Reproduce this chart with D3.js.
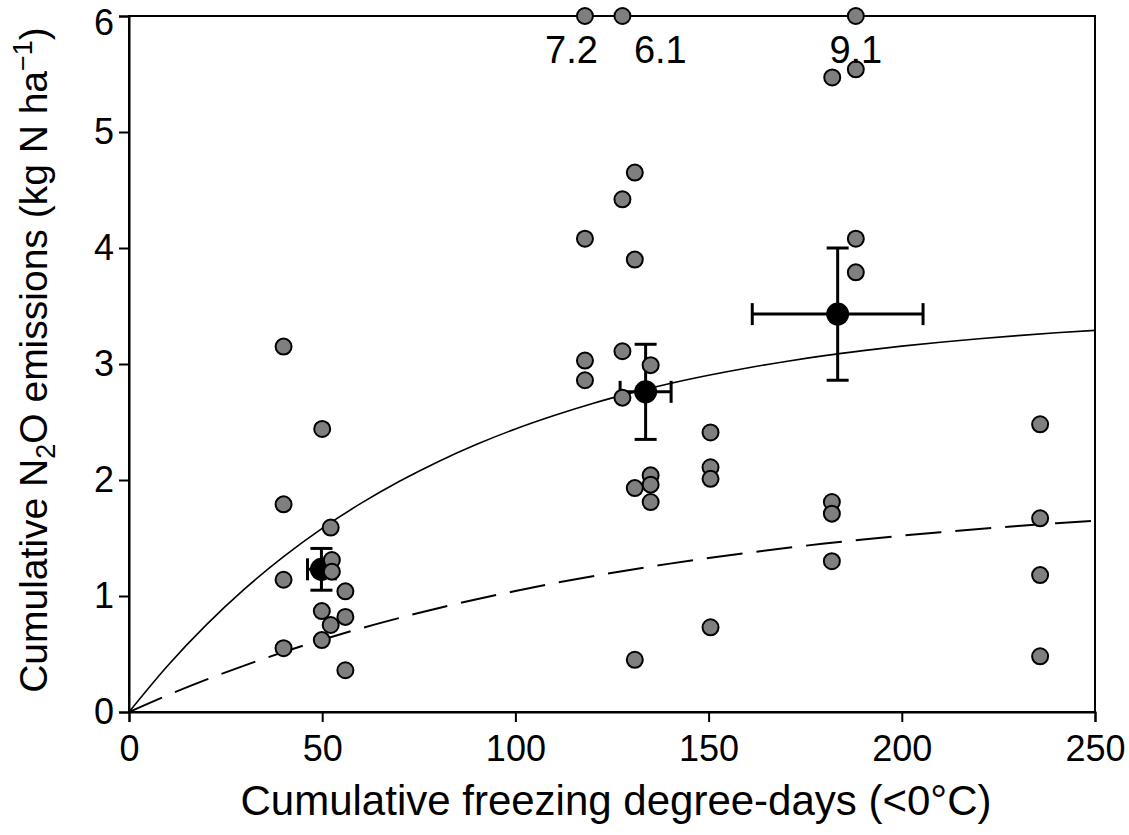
<!DOCTYPE html>
<html><head><meta charset="utf-8">
<script src="https://cdn.jsdelivr.net/npm/d3@7"></script>
<style>body{margin:0;background:#fff}svg{display:block}text{font-family:"Liberation Sans",Arial,sans-serif;fill:#000}</style>
</head><body>
<svg id="c" width="1129" height="835"></svg>
<script>
// Individual observations (x: cumulative freezing degree-days, y: kg N ha-1)
const obsX = [40,40,40,40, 50,52.2,52.5,52.5,56,49.9,56,52.2,49.9,56,
  118,127.7,130.9,127.7,118,118,135,127.7,135,135,130.9,135,130.9,130.9,150.5,150.5,150.5,150.5,
  182,188.1,188.1,188.1,181.9,181.9,181.9,
  235.8,235.8,235.8,235.8,
  118,127.7,188.1];
const obsY = [3.15,1.79,1.14,0.55, 2.44,1.59,1.31,1.21,1.04,0.87,0.82,0.75,0.62,0.36,
  4.08,4.42,4.65,3.11,3.03,2.86,2.99,2.71,2.04,1.96,3.90,1.81,1.93,0.45,2.41,2.11,2.01,0.73,
  5.47,5.54,4.08,3.79,1.81,1.71,1.30,
  2.48,1.67,1.18,0.48,
  6,6,6];
// Off-scale values (drawn at the top border)
const offLabels = ["7.2","6.1","9.1"];
const offX = [118,127.7,188.1];
const offLabelX = [114.5,137.5,188.1];
// Group means with standard errors
const meanX = [49.8,133.7,183.4];
const meanY = [1.23,2.76,3.43];
const meanXErr = [3.6,6.6,22.1];
const meanYErr = [0.18,0.41,0.57];
// Fitted curves read at 10-unit steps
const curveX = [0,10,20,30,40,50,60,70,80,90,100,110,120,130,140,150,160,170,180,190,200,210,220,230,240,250];
const solidY = [0,0.399,0.751,1.063,1.339,1.583,1.798,1.989,2.158,2.308,2.440,2.556,2.660,2.751,2.832,2.903,2.966,3.022,3.072,3.115,3.154,3.188,3.218,3.245,3.269,3.290];
const dashY = [0,0.145,0.279,0.402,0.517,0.623,0.721,0.811,0.895,0.972,1.043,1.110,1.171,1.227,1.279,1.328,1.372,1.414,1.452,1.487,1.520,1.550,1.578,1.604,1.627,1.650];
const xTicks = [0,50,100,150,200,250];
const yTicks = [0,1,2,3,4,5,6];

const svg = d3.select("#c");
const m = {l:129, t:16, r:34, b:123};
const W = 1129 - m.l - m.r, H = 835 - m.t - m.b;
const x = d3.scaleLinear().domain([0,250]).range([0,W]);
const y = d3.scaleLinear().domain([0,6]).range([H,0]);
const g = svg.append("g").attr("transform",`translate(${m.l},${m.t})`);

const line = d3.line().x((d,i)=>x(curveX[i])).y(d=>y(d)).curve(d3.curveMonotoneX);
g.append("path").attr("d",line(solidY)).attr("fill","none").attr("stroke","#000").attr("stroke-width",1.6);
g.append("path").attr("d",line(dashY)).attr("fill","none").attr("stroke","#000").attr("stroke-width",2).attr("stroke-dasharray","36,14");

// frame
g.append("rect").attr("x",0).attr("y",0).attr("width",W).attr("height",H).attr("fill","none").attr("stroke","#000").attr("stroke-width",2);

const xa = g.append("g").attr("transform",`translate(0,${H})`).call(d3.axisBottom(x).tickValues(xTicks).tickSize(10).tickPadding(13));
const ya = g.append("g").call(d3.axisLeft(y).tickValues(yTicks).tickFormat(d3.format("d")).tickSize(10).tickPadding(5));
[xa,ya].forEach(a=>{a.select(".domain").attr("stroke-width",2);a.selectAll(".tick line").attr("stroke-width",2);a.selectAll("text").style("font-size","36px").style("font-family","'Liberation Sans',Arial,sans-serif");});
// keep the top label inside the picture
ya.selectAll(".tick text").filter(d=>d===6).attr("dy","0.5em");

// error bars
const cap = 11;
meanX.forEach((mx,i)=>{
  const cx=x(mx), cy=y(meanY[i]);
  const x0=x(mx-meanXErr[i]), x1=x(mx+meanXErr[i]);
  const y0=y(meanY[i]-meanYErr[i]), y1=y(meanY[i]+meanYErr[i]);
  const e = g.append("g").attr("stroke","#000").attr("stroke-width",3);
  e.append("line").attr("x1",x0).attr("x2",x1).attr("y1",cy).attr("y2",cy);
  e.append("line").attr("x1",x0).attr("x2",x0).attr("y1",cy-cap).attr("y2",cy+cap);
  e.append("line").attr("x1",x1).attr("x2",x1).attr("y1",cy-cap).attr("y2",cy+cap);
  e.append("line").attr("x1",cx).attr("x2",cx).attr("y1",y0).attr("y2",y1);
  e.append("line").attr("x1",cx-cap).attr("x2",cx+cap).attr("y1",y0).attr("y2",y0);
  e.append("line").attr("x1",cx-cap).attr("x2",cx+cap).attr("y1",y1).attr("y2",y1);
});
g.selectAll("circle.m").data(meanX).join("circle").attr("class","m")
  .attr("cx",d=>x(d)).attr("cy",(d,i)=>y(meanY[i])).attr("r",11.5).attr("fill","#000");

g.selectAll("circle.o").data(obsX).join("circle").attr("class","o")
  .attr("cx",d=>x(d)).attr("cy",(d,i)=>y(obsY[i])).attr("r",8).attr("fill","#7f7f7f").attr("stroke","#000").attr("stroke-width",2);

g.selectAll("text.off").data(offLabels).join("text").attr("class","off")
  .attr("x",(d,i)=>x(offLabelX[i])).attr("y",y(6)+47).attr("text-anchor","middle").style("font-size","38px").text(d=>d);

// axis titles
svg.append("text").attr("x",m.l+W/2+4).attr("y",815).attr("text-anchor","middle").style("font-size","42px")
  .text("Cumulative freezing degree-days (<0°C)");
const yt = svg.append("text").attr("transform",`translate(47,${m.t+H/2-4}) rotate(-90)`).attr("text-anchor","middle").style("font-size","39px");
yt.append("tspan").text("Cumulative N");
yt.append("tspan").attr("dy",8).style("font-size","27px").text("2");
yt.append("tspan").attr("dy",-8).text("O emissions (kg N ha");
yt.append("tspan").attr("dy",-15).style("font-size","27px").text("−1");
yt.append("tspan").attr("dy",15).text(")");
</script>
</body></html>
